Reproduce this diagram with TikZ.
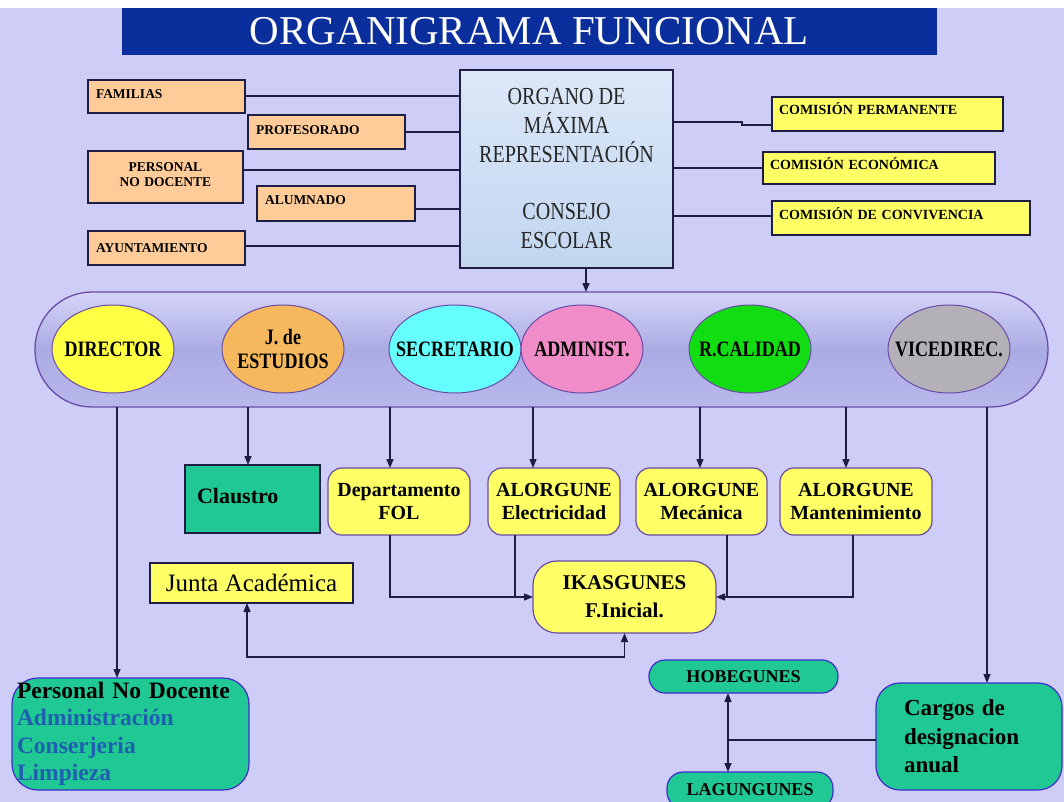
\documentclass[tikz,border=0pt]{standalone}
\usepackage{fontspec}
\setmainfont{Liberation Serif}
\newfontfamily\cnd[FakeStretch=0.82]{Liberation Serif}
\usetikzlibrary{arrows.meta,shapes.geometric}
\definecolor{bgc}{HTML}{CDCDF8}
\definecolor{titleblue}{HTML}{0A2F9C}
\definecolor{orangebox}{HTML}{FFCC99}
\definecolor{yelbox}{HTML}{FFFF66}
\definecolor{tealbox}{HTML}{20C894}
\definecolor{linec}{HTML}{1C1C44}
\definecolor{purp}{HTML}{6A4BA8}
\definecolor{cyanell}{HTML}{66FFFF}
\definecolor{pinkell}{HTML}{F08CC8}
\definecolor{greenell}{HTML}{12DC12}
\definecolor{grayell}{HTML}{B4B0B8}
\definecolor{orangeell}{HTML}{F5B85C}
\definecolor{yelell}{HTML}{FFFF44}
\definecolor{bluetext}{HTML}{1F5FB0}
\definecolor{cbtop}{HTML}{DCE8F8}
\definecolor{cbbot}{HTML}{C2D6F0}
\definecolor{captop}{HTML}{D4D4F8}
\definecolor{capmid}{HTML}{ABABE4}
\definecolor{capbot}{HTML}{B8B8EC}
\tikzset{
  box/.style={draw=linec, line width=1.2pt, anchor=north west, inner sep=0pt, outer sep=0pt},
  obox/.style={box, fill=orangebox, font=\bfseries\fontsize{13.5}{15}\selectfont},
  ybox/.style={box, fill=yelbox, font=\bfseries\fontsize{14}{16}\selectfont},
  rbox/.style={box, draw=purp, fill=yelbox, rounded corners=14pt, align=center,
    font=\bfseries\fontsize{20}{23}\selectfont},
  tbox/.style={box, draw=purp!60!blue, fill=tealbox, rounded corners=20pt},
  ell/.style={ellipse, draw=purp, line width=1pt, minimum width=122pt, minimum height=88pt,
    inner xsep=-25pt, inner ysep=-8pt, align=center, font=\cnd\bfseries\fontsize{22}{24}\selectfont},
  conn/.style={draw=linec, line width=1.4pt},
  arr/.style={conn, -{Triangle[length=9pt,width=7pt]}},
  darr/.style={conn, {Triangle[length=9pt,width=7pt]}-{Triangle[length=9pt,width=7pt]}},
}
\begin{document}
\begin{tikzpicture}[x=1pt,y=-1pt]
\useasboundingbox (0,0) rectangle (1064,802);
\fill[bgc] (0,0) rectangle (1064,802);
\fill[white] (0,0) rectangle (1064,8);

% title
\node[box, draw=none, fill=titleblue, minimum width=815pt, minimum height=47pt,
  font=\fontsize{41}{44}\selectfont, text=white] (title) at (122,8) {ORGANIGRAMA FUNCIONAL};

% left boxes
\node[obox, minimum width=155pt, minimum height=33pt, text width=141pt, align=left, inner xsep=8pt,
  text height=11pt, text depth=6pt] (fam) at (88,80) {FAMILIAS};
\node[obox, minimum width=155pt, minimum height=34pt, text width=141pt, align=left, inner xsep=8pt,
  text height=11pt, text depth=6pt] (prof) at (248,115) {PROFESORADO};
\node[obox, minimum width=155pt, minimum height=52pt, text width=141pt, align=center, inner xsep=7pt,
  text height=10pt, text depth=20pt] (pers) at (88,151) {PERSONAL\\NO DOCENTE};
\node[obox, minimum width=156pt, minimum height=35pt, text width=142pt, align=left, inner xsep=8pt,
  text height=12pt, text depth=9pt] (alum) at (257,186) {ALUMNADO};
\node[obox, minimum width=155pt, minimum height=34pt, text width=141pt, align=left, inner xsep=8pt] (ayun) at (88,231) {AYUNTAMIENTO};

% centre box
\node[box, top color=cbtop, bottom color=cbbot, minimum width=213pt, minimum height=198pt,
  align=center, font=\cnd\fontsize{24.5}{29}\selectfont, text=black!85] (cb) at (460,70)
  {ORGANO DE\\MÁXIMA\\REPRESENTACIÓN\\[28pt]CONSEJO\\ESCOLAR};

% right boxes
\node[ybox, minimum width=229pt, minimum height=34pt, text width=217pt, align=left, inner xsep=7pt,
  text height=12pt, text depth=10pt] (perm) at (772,97) {COMISIÓN PERMANENTE};
\node[ybox, minimum width=230pt, minimum height=32pt, text width=218pt, align=left, inner xsep=7pt,
  text height=12pt, text depth=8pt] (econ) at (763,152) {COMISIÓN ECONÓMICA};
\node[ybox, minimum width=256pt, minimum height=34pt, text width=244pt, align=left, inner xsep=7pt,
  text height=12pt, text depth=9pt] (conv) at (772,201) {COMISIÓN DE CONVIVENCIA};

% connectors top
\draw[conn] (fam.east |- 0,96) -- (cb.west |- 0,96);
\draw[conn] (prof.east |- 0,132) -- (cb.west |- 0,132);
\draw[conn] (pers.east |- 0,170) -- (cb.west |- 0,170);
\draw[conn] (alum.east |- 0,209) -- (cb.west |- 0,209);
\draw[conn] (ayun.east |- 0,246) -- (cb.west |- 0,246);
\draw[conn] (cb.east |- 0,122) -- (742,122) -- (742,125) -- (perm.west |- 0,125);
\draw[conn] (cb.east |- econ.west) -- (econ.west);
\draw[conn] (cb.east |- 0,216) -- (conv.west |- 0,216);

% capsule
\node[box, draw=purp, line width=1.3pt, rounded corners=57pt, minimum width=1013pt, minimum height=115pt,
  top color=captop, bottom color=capbot, middle color=capmid] (cap) at (35,292) {};
\draw[arr] (cb.south -| 586,0) -- (cap.north -| 586,0);

\node[ell, fill=yelell] (dir) at (113,349) {DIRECTOR};
\node[ell, fill=orangeell] (jde) at (283,349) {J. de\\ESTUDIOS};
\node[ell, fill=cyanell, minimum width=132pt] (sec) at (455,349) {SECRETARIO};
\node[ell, fill=pinkell] (adm) at (582,349) {ADMINIST.};
\node[ell, fill=greenell] (cal) at (750,349) {R.CALIDAD};
\node[ell, fill=grayell] (vic) at (949,349) {VICEDIREC.};

% second row
\node[box, fill=tealbox, minimum width=125pt, minimum height=68pt, text width=111pt, align=left, inner xsep=12pt,
  text height=16pt, text depth=8pt, font=\bfseries\fontsize{22}{24}\selectfont] (claus) at (185,465) {Claustro};
\node[rbox, minimum width=142pt, minimum height=67pt] (fol) at (328,468) {Departamento\\FOL};
\node[rbox, minimum width=132pt, minimum height=67pt] (ele) at (488,468) {ALORGUNE\\Electricidad};
\node[rbox, minimum width=131pt, minimum height=67pt] (mec) at (636,468) {ALORGUNE\\Mecánica};
\node[rbox, minimum width=152pt, minimum height=67pt] (man) at (780,468) {ALORGUNE\\Mantenimiento};

\node[box, fill=yelbox, minimum width=203pt, minimum height=40pt, font=\fontsize{25}{27}\selectfont] (junta) at (150,563) {Junta Académica};
\node[rbox, rounded corners=24pt, minimum width=183pt, minimum height=72pt, font=\bfseries\fontsize{21}{28}\selectfont] (ikas) at (533,561) {IKASGUNES\\F.Inicial.};

% bottom row
\node[tbox, rounded corners=26pt, minimum width=235pt, minimum height=112pt, text width=227pt, align=left, inner xsep=5pt,
  font=\bfseries\fontsize{23.5}{27.5}\selectfont] (pnd) at (12,678)
  {Personal No Docente\\\textcolor{bluetext}{Administración}\\\textcolor{bluetext}{Conserjeria}\\\textcolor{bluetext}{Limpieza}};
\node[tbox, rounded corners=16pt, minimum width=189pt, minimum height=33pt, font=\bfseries\fontsize{18}{20}\selectfont] (hobe) at (649,660) {HOBEGUNES};
\node[tbox, rounded corners=16pt, minimum width=166pt, minimum height=36pt, text height=13pt, text depth=3pt,
  font=\bfseries\fontsize{18}{20}\selectfont] (lagu) at (667,772) {LAGUNGUNES};
\node[tbox, rounded corners=24pt, minimum width=186pt, minimum height=107pt, text width=130pt, align=left, inner xsep=28pt,
  font=\bfseries\fontsize{23}{28.5}\selectfont] (cargos) at (876,683) {Cargos de\\designacion\\anual};

% drop lines
\draw[arr] (cap.south -| 117,0) -- (pnd.north -| 117,0);
\draw[arr] (cap.south -| 248,0) -- (claus.north -| 248,0);
\draw[arr] (cap.south -| 390,0) -- (fol.north -| 390,0);
\draw[arr] (cap.south -| 533,0) -- (ele.north -| 533,0);
\draw[arr] (cap.south -| 700,0) -- (mec.north -| 700,0);
\draw[arr] (cap.south -| 846,0) -- (man.north -| 846,0);
\draw[arr] (cap.south -| 987,0) -- (cargos.north -| 987,0);

% to IKASGUNES
\draw[arr] (fol.south -| 390,0) |- (ikas.west);
\draw[conn] (ele.south -| 515,0) -- (515,597);
\draw[arr] (man.south -| 853,0) |- (ikas.east);
\draw[conn] (mec.south -| 727,0) -- (727,597);
\draw[darr] (junta.south -| 247,0) -- (247,657) -| (ikas.south);

% hobegunes / lagungunes
\draw[darr] (hobe.south -| 728,0) -- (lagu.north -| 728,0);
\draw[conn] (cargos.west |- 0,740) -- (728,740);
\end{tikzpicture}
\end{document}
